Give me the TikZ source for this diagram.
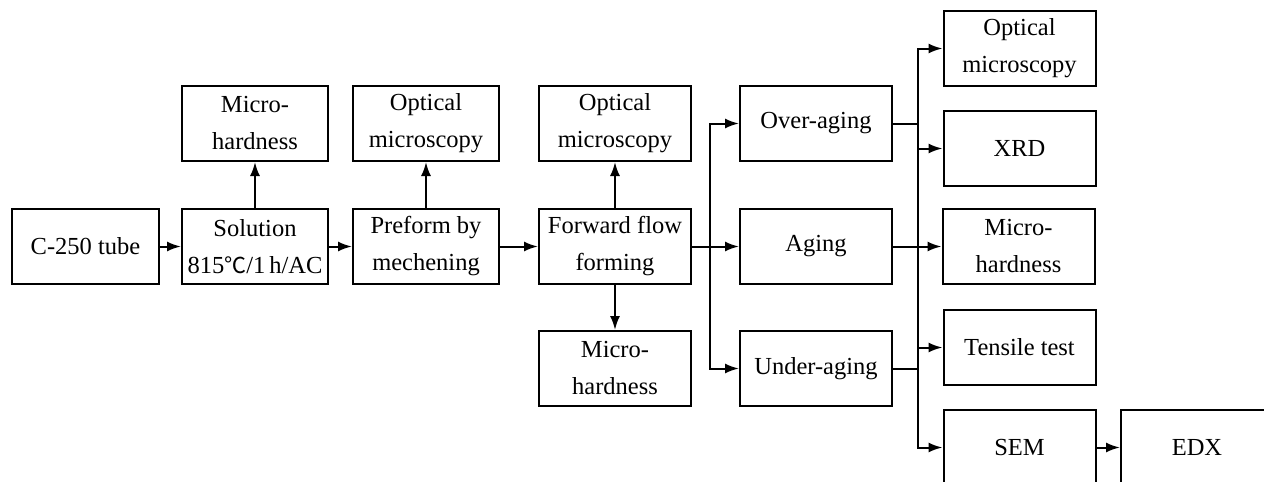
\documentclass[tikz,border=0pt]{standalone}
\usepackage{fontspec}
\setmainfont{Liberation Serif}
\newfontfamily\cjk{Noto Sans CJK SC}
\usetikzlibrary{arrows.meta}
\begin{document}
\begin{tikzpicture}[x=1pt,y=-1pt,
  box/.style={draw, line width=2pt, minimum width=146pt, minimum height=75pt, inner sep=0pt, align=center, font=\fontsize{24.5}{37}\selectfont},
  wbox/.style={box, minimum width=152pt},
  ar/.style={line width=2pt, -{Latex[length=14pt,width=10pt]}},
  ln/.style={line width=2pt}]
\useasboundingbox (0,0) rectangle (1264,482);
% main chain
\node[box, minimum width=147pt] (c250) at (85.5,246.5) {C-250 tube};
\node[box] (sol) at (255,246.5) {Solution\\815{\cjk\fontsize{22}{37}\selectfont ℃}/1\,h/AC};
\node[box] (mh1) at (255,123.5) {Micro-\\hardness};
\node[box] (pre) at (426,246.5) {Preform by\\mechening};
\node[box] (om1) at (426,123.5) {Optical\\microscopy};
\node[wbox] (fwd) at (615,246.5) {Forward flow\\forming};
\node[wbox] (om2) at (615,123.5) {Optical\\microscopy};
\node[wbox] (mh2) at (615,368.5) {Micro-\\hardness};
% aging
\node[wbox] (over) at (816,123.5) {Over-aging};
\node[wbox] (aging) at (816,246.5) {Aging};
\node[wbox] (under) at (816,368.5) {Under-aging};
% tests
\node[wbox] (om3) at (1019.5,48.5) {Optical\\microscopy};
\node[wbox] (xrd) at (1019.5,148.5) {XRD};
\node[wbox] (mh3) at (1018.5,246.5) {Micro-\\hardness};
\node[wbox] (tens) at (1019.5,347.5) {Tensile test};
\node[wbox] (sem) at (1019.5,447.5) {SEM};
\node[wbox] (edx) at (1197,447.5) {EDX};
% connectors
\draw[ar] (c250) -- (sol);
\draw[ar] (sol) -- (pre);
\draw[ar] (pre) -- (fwd);
\draw[ar] (sol) -- (mh1);
\draw[ar] (pre) -- (om1);
\draw[ar] (fwd) -- (om2);
\draw[ar] (fwd) -- (mh2);
\coordinate (s) at (710,246.5);
\draw[ln] (fwd.east) -- (s);
\draw[ar] (s) |- (over.west);
\draw[ar] (s) -- (aging.west);
\draw[ar] (s) |- (under.west);
\coordinate (b) at (918,246.5);
\draw[ln] (over.east) -- (over.east -| b);
\draw[ln] (under.east) -- (under.east -| b);
\draw[ar] (aging.east) -- (mh3.west);
\draw[ar] (b) |- (om3.west);
\draw[ar] (b) |- (xrd.west);
\draw[ar] (b) |- (tens.west);
\draw[ar] (b) |- (sem.west);
\draw[ar] (sem) -- (edx);
\end{tikzpicture}
\end{document}
